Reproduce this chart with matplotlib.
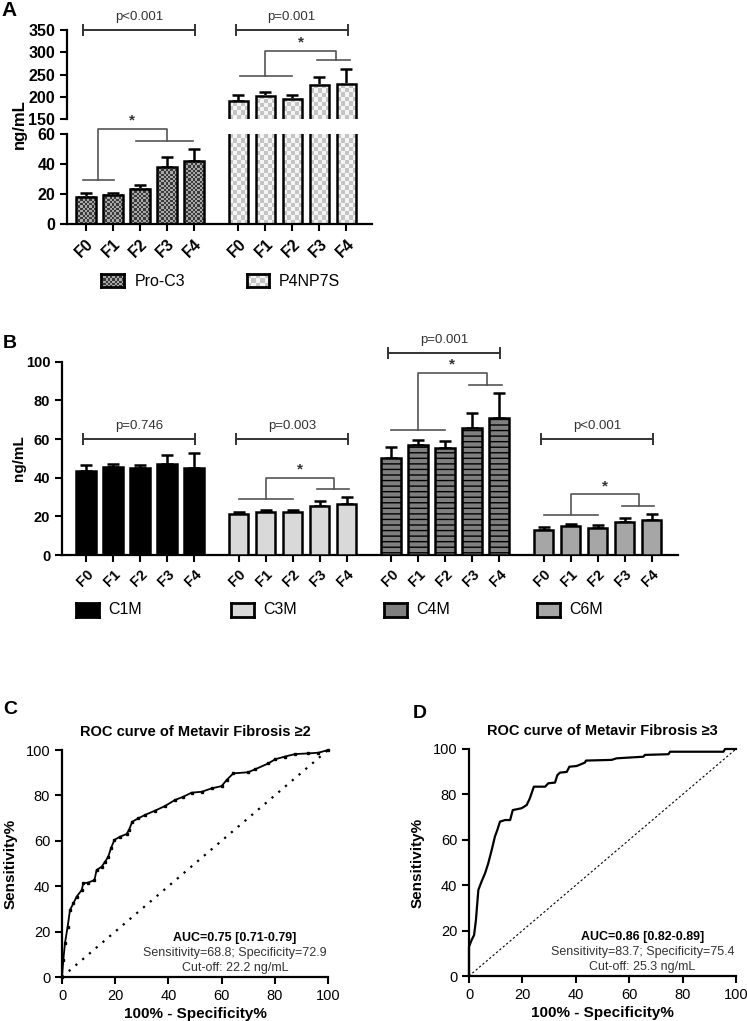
import numpy as np
import matplotlib.pyplot as plt
from matplotlib.colors import ListedColormap

plt.rcParams['font.family'] = ['Liberation Sans', 'DejaVu Sans']
plt.rcParams['hatch.linewidth'] = 1.0

W, H = 747, 1021

stages = ['F0', 'F1', 'F2', 'F3', 'F4']

# panel A
proc3 = [18.2, 19.5, 23.6, 38.0, 42.0]
proc3_err = [2.2, 1.4, 2.2, 6.5, 8.0]
p4np7s = [189.5, 202.0, 195.0, 227.0, 229.0]
p4np7s_err = [15.0, 9.0, 9.0, 18.5, 33.5]

# panel B
c1m = [43.4, 45.3, 44.9, 47.0, 45.1]
c1m_err = [3.1, 1.7, 1.7, 4.5, 7.9]
c3m = [21.0, 22.4, 22.0, 25.5, 26.3]
c3m_err = [1.5, 1.0, 1.2, 2.2, 3.8]
c4m = [50.4, 56.8, 55.4, 65.7, 71.1]
c4m_err = [5.4, 2.9, 3.6, 7.8, 12.7]
c6m = [12.9, 15.1, 14.1, 16.9, 18.2]
c6m_err = [1.6, 0.9, 1.2, 2.0, 3.0]

# ROC curves (100% - specificity, sensitivity)
fpr_c = [0, 0.5, 1.1, 2.1, 3.0, 4.3, 5.5, 7.4, 8.0, 9.9, 12.2, 13.0, 14.9, 16.2, 17.4,
         18.4, 19.7, 21.8, 24.3, 25.2, 26.4, 28.7, 31.2, 35.0, 38.7, 42.5, 45.6, 48.7,
         52.5, 56.3, 60.0, 61.9, 64.4, 70.0, 72.6, 77.6, 80.1, 83.8, 87.6, 92.6, 96.4, 100]
tpr_c = [0, 7.5, 14.8, 22.0, 29.5, 32.5, 35.4, 38.3, 41.3, 41.6, 42.7, 47.1, 48.6, 50.8, 53.0,
         56.7, 60.4, 61.8, 63.0, 64.8, 68.4, 69.9, 71.4, 73.3, 75.3, 78.0, 79.4, 81.2,
         81.6, 83.1, 84.1, 86.8, 89.7, 90.2, 91.5, 94.1, 95.9, 97.1, 98.2, 98.5, 98.8, 100]
fpr_d = [0, 0, 1.0, 1.9, 2.6, 3.5, 4.7, 6.0, 7.2, 8.5, 9.7, 10.6, 11.6, 13.5, 15.4, 16.4,
         19.7, 21.6, 22.8, 24.3, 28.5, 29.7, 32.2, 33.1, 34.1, 36.6, 37.6, 40.3, 43.4, 43.8,
         53.4, 55.3, 65.3, 65.9, 74.7, 75.3, 95.3, 95.9, 100]
tpr_d = [0, 12.9, 15.9, 18.0, 24.7, 37.9, 41.6, 45.2, 49.6, 55.5, 61.4, 64.3, 68.0, 68.7, 68.7, 73.1,
         73.9, 75.3, 78.3, 83.4, 83.4, 84.9, 85.2, 88.5, 89.6, 89.9, 92.2, 92.5, 94.0, 94.9,
         95.2, 95.9, 96.6, 97.4, 97.7, 98.8, 98.8, 100, 100]

GAP = 5.65
BW = 0.72

fig = plt.figure(figsize=(W / 100, H / 100), dpi=100)


def axes_px(l, t, r, b):
    return fig.add_axes([l / W, 1 - b / H, (r - l) / W, (b - t) / H])


def checker(ax, x0, x1, y0, y1, cell, colors, z=2):
    (a, b), (c, d) = ax.transData.transform([(x0, y0), (x1, y1)])
    nx = max(1, int(round(abs(c - a) / cell)))
    ny = max(1, int(round(abs(d - b) / cell)))
    img = np.indices((ny, nx)).sum(axis=0) % 2
    ax.imshow(img, cmap=ListedColormap(colors), vmin=0, vmax=1, extent=(x0, x1, y0, y1),
              origin='lower', interpolation='nearest', aspect='auto', zorder=z)


def style(ax, bottom=True, ls=10.5):
    for s in ['top', 'right']:
        ax.spines[s].set_visible(False)
    ax.spines['left'].set_linewidth(1.6)
    ax.spines['bottom'].set_linewidth(1.6)
    ax.spines['bottom'].set_visible(bottom)
    ax.tick_params(direction='out', length=5, width=1.5, labelsize=ls)
    for lab in ax.get_yticklabels():
        lab.set_fontweight('bold')


def errs(ax, xs, vals, err):
    ax.errorbar(xs, vals, yerr=[np.zeros(len(vals)), err], fmt='none', ecolor='black',
                elinewidth=1.8, capsize=4, capthick=1.8, zorder=1, clip_on=False)


def bracket(ax, x0, x1, y, text, fs=9.5):
    ax.plot([x0, x1], [y, y], color='#333333', lw=1.4, marker='|', markersize=8,
            mew=1.4, clip_on=False)
    ax.annotate(text, (0.5 * (x0 + x1), y), xytext=(0, 5), textcoords='offset points',
                ha='center', va='bottom', fontsize=fs, color='#333333', annotation_clip=False)


def compare(ax, g, ya, yb, ytop, a=(0.0, 2.0, 1.0), b=(2.9, 4.1, 3.55)):
    kw = dict(color='#555555', lw=1.2, clip_on=False)
    ax.plot([g + a[0], g + a[1]], [ya, ya], **kw)
    ax.plot([g + b[0], g + b[1]], [yb, yb], **kw)
    ax.plot([g + a[2], g + a[2], g + b[2], g + b[2]], [ya, ytop, ytop, yb], **kw)
    ax.annotate('*', (g + 0.5 * (a[2] + b[2]), ytop), xytext=(0, 1), textcoords='offset points',
                ha='center', va='bottom', fontsize=11, fontweight='bold', color='#333333',
                annotation_clip=False)


def xticks(ax, n, fs=10.5):
    pos = [g * GAP + i for g in range(n) for i in range(5)]
    ax.set_xticks(pos)
    ax.set_xticklabels(stages * n, rotation=45, ha='right', rotation_mode='anchor',
                       fontweight='bold', fontsize=fs)


# ---------------- Panel A ----------------
axA_top = axes_px(67, 30, 372, 119)
axA_bot = axes_px(67, 134, 372, 224)
for ax, yl in [(axA_top, (150, 350)), (axA_bot, (0, 60))]:
    ax.set_xlim(-0.7, 10.6)
    ax.set_ylim(*yl)

x1 = np.arange(5)
x2 = np.arange(5) + GAP

for i in range(5):
    checker(axA_bot, x1[i] - BW / 2, x1[i] + BW / 2, 0, proc3[i], 2.2, ['#3a3a3a', '#a8a8a8'])
    checker(axA_bot, x2[i] - BW / 2, x2[i] + BW / 2, 0, 60, 4.2, ['#c4c4c4', '#f4f4f4'])
    checker(axA_top, x2[i] - BW / 2, x2[i] + BW / 2, 150, p4np7s[i], 4.2, ['#c4c4c4', '#f4f4f4'])
errs(axA_bot, x1, proc3, proc3_err)
errs(axA_top, x2, p4np7s, p4np7s_err)
axA_bot.bar(x1, proc3, BW, fill=False, edgecolor='black', lw=1.8, zorder=3)
axA_bot.bar(x2, p4np7s, BW, fill=False, edgecolor='black', lw=1.8, zorder=3)
axA_top.bar(x2, p4np7s, BW, fill=False, edgecolor='black', lw=1.8, zorder=3)

axA_top.set_xlim(-0.7, 10.6)
axA_top.set_ylim(150, 350)
axA_top.set_yticks([150, 200, 250, 300, 350])
axA_top.set_xticks([])
axA_bot.set_xlim(-0.7, 10.6)
axA_bot.set_ylim(0, 60)
axA_bot.set_yticks([0, 20, 40, 60])
xticks(axA_bot, 2, fs=11)
style(axA_top, bottom=False, ls=11.5)
style(axA_bot, ls=11.5)

bracket(axA_top, -0.1, 4.05, 350, 'p<0.001')
bracket(axA_top, GAP - 0.1, GAP + 4.05, 350, 'p=0.001')
compare(axA_bot, 0, 29.4, 55.1, 63.3, a=(-0.1, 1.05, 0.45), b=(1.85, 3.95, 3.0))
compare(axA_top, GAP, 247, 282, 303, a=(0.07, 2.0, 1.0), b=(2.93, 4.15, 3.6))

fig.text(19 / W, 1 - 124 / H, 'ng/mL', rotation=90, ha='center', va='center',
         fontsize=12, fontweight='bold')


# ---------------- Legends ----------------
def swatch(l, t, r, b):
    ax = axes_px(l, t, r, b)
    ax.set_xlim(0, 1)
    ax.set_ylim(0, 1)
    ax.set_xticks([])
    ax.set_yticks([])
    for s in ax.spines.values():
        s.set_linewidth(2.0)
    return ax


sw = swatch(101, 274, 124, 287)
checker(sw, 0, 1, 0, 1, 2.2, ['#3a3a3a', '#a8a8a8'])
sw.set_xlim(0, 1); sw.set_ylim(0, 1)
fig.text(135 / W, 1 - 281 / H, 'Pro-C3', fontsize=11.5, va='center')
sw = swatch(247, 274, 269, 287)
checker(sw, 0, 1, 0, 1, 4.2, ['#c4c4c4', '#f4f4f4'])
sw.set_xlim(0, 1); sw.set_ylim(0, 1)
fig.text(279 / W, 1 - 281 / H, 'P4NP7S', fontsize=11.5, va='center')

# ---------------- Panel B ----------------
axB = axes_px(62, 361.7, 678, 555)
axB.set_xlim(-0.89, 21.93)
axB.set_ylim(0, 100)
groups = [(c1m, c1m_err, dict(color='black')),
          (c3m, c3m_err, dict(color='#d9d9d9')),
          (c4m, c4m_err, dict(color='#7f7f7f', hatch='---')),
          (c6m, c6m_err, dict(color='#a6a6a6'))]
for g, (vals, err, kw) in enumerate(groups):
    xs = np.arange(5) + g * GAP
    errs(axB, xs, vals, err)
    axB.bar(xs, vals, BW, edgecolor='black', lw=1.8, zorder=3, **kw)
axB.set_yticks([0, 20, 40, 60, 80, 100])
xticks(axB, 4)
style(axB)
axB.set_ylabel('ng/mL', fontsize=11, fontweight='bold', labelpad=4)
axB.yaxis.set_label_coords(-(62 - 26) / 616, 0.5)

bracket(axB, -0.1, 4.05, 60, 'p=0.746')
bracket(axB, GAP - 0.1, GAP + 4.05, 60, 'p=0.003')
bracket(axB, 2 * GAP - 0.1, 2 * GAP + 4.05, 104.4, 'p=0.001')
bracket(axB, 3 * GAP - 0.1, 3 * GAP + 4.05, 60, 'p<0.001')
compare(axB, GAP, 28.9, 33.9, 39.9)
compare(axB, 2 * GAP, 64.5, 88.1, 94.1)
compare(axB, 3 * GAP, 20.7, 25.5, 31.3)

names = ['C1M', 'C3M', 'C4M', 'C6M']
sw_x = [76, 231, 384, 537]
for (vals, err, kw), name, sx in zip(groups, names, sw_x):
    sw = swatch(sx, 603, sx + 23, 617)
    sw.add_patch(plt.Rectangle((0, 0), 1, 1, edgecolor='black', lw=0, **kw))
    fig.text((sx + 32) / W, 1 - 610 / H, name, fontsize=11.5, va='center')


# ---------------- Panels C and D ----------------
def roc(ax, fpr, tpr, title, auc, stats, cut, fine):
    ax.set_xlim(0, 100)
    ax.set_ylim(0, 100)
    if fine:
        ax.plot([0, 100], [0, 100], ls=(0, (2, 2)), color='black', lw=0.8)
        ax.plot(fpr, tpr, color='black', lw=1.6, clip_on=False)
    else:
        ax.plot([0, 100], [0, 100], ls=(0, (1, 3)), color='black', lw=1.6)
        ax.plot(fpr, tpr, color='black', lw=1.3, marker='s', markersize=1.6, clip_on=False)
    ax.set_xticks(range(0, 101, 20))
    ax.set_yticks(range(0, 101, 20))
    for s in ['top', 'right']:
        ax.spines[s].set_visible(False)
    for s in ['left', 'bottom']:
        ax.spines[s].set_linewidth(1.6)
    ax.tick_params(direction='out', length=5, width=1.5, labelsize=10.5)
    ax.set_title(title, fontsize=10.5, fontweight='bold', pad=10)
    ax.set_xlabel('100% - Specificity%', fontsize=11, fontweight='bold', labelpad=3)
    ax.set_ylabel('Sensitivity%', fontsize=11, fontweight='bold', labelpad=6)
    ax.text(65, 17.2, auc, ha='center', va='center', fontsize=9, fontweight='bold')
    ax.text(65, 10.6, stats, ha='center', va='center', fontsize=9, color='#333333')
    ax.text(65, 4.0, cut, ha='center', va='center', fontsize=9, color='#333333')


axC = axes_px(62, 750, 328, 977)
roc(axC, fpr_c, tpr_c, 'ROC curve of Metavir Fibrosis \u22652', 'AUC=0.75 [0.71-0.79]',
    'Sensitivity=68.8; Specificity=72.9', 'Cut-off: 22.2 ng/mL', False)
axD = axes_px(469, 749, 736, 976)
roc(axD, fpr_d, tpr_d, 'ROC curve of Metavir Fibrosis \u22653', 'AUC=0.86 [0.82-0.89]',
    'Sensitivity=83.7; Specificity=75.4', 'Cut-off: 25.3 ng/mL', True)

for lab, x, y, fs in [('A', 9, 11, 15), ('B', 10, 343, 14), ('C', 10, 709, 14), ('D', 420, 713, 14)]:
    fig.text(x / W, 1 - y / H, lab, fontsize=fs, fontweight='bold', ha='center', va='center')

fig.savefig('out.png', dpi=100)
